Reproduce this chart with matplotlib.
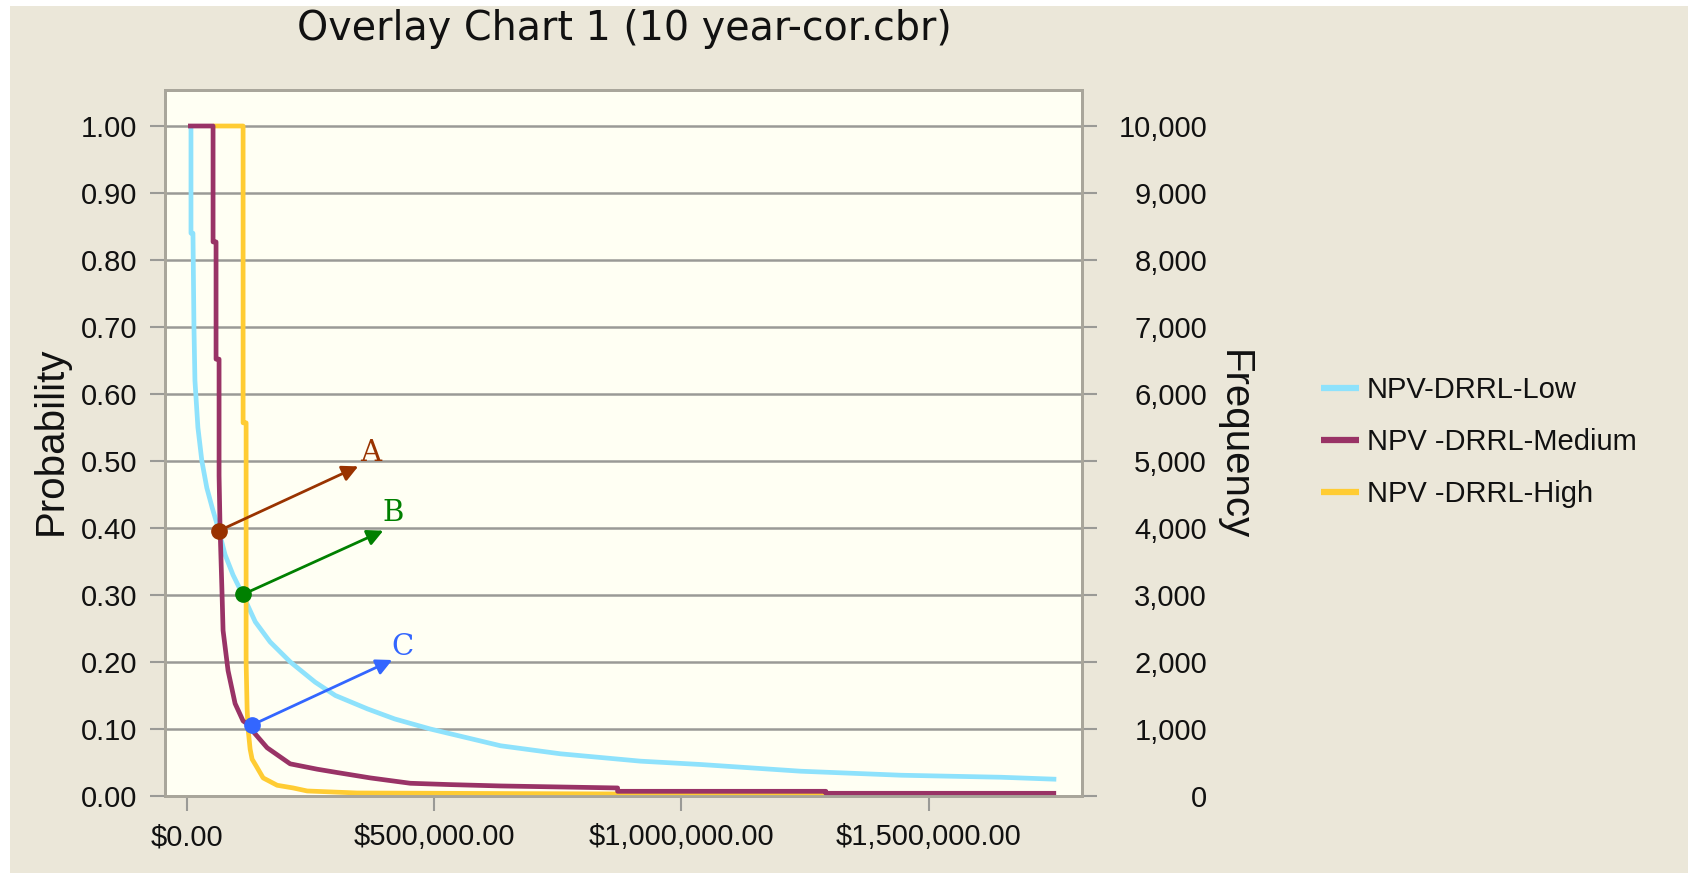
import matplotlib
matplotlib.use("Agg")
import matplotlib.pyplot as plt
from matplotlib.patches import Rectangle
from matplotlib.ticker import FixedLocator, FixedFormatter

plt.rcParams['font.family'] = ['Liberation Sans', 'DejaVu Sans']

# ---------------- data ----------------
title = "Overlay Chart 1 (10 year-cor.cbr)"
series_names = ["NPV-DRRL-Low", "NPV -DRRL-Medium", "NPV -DRRL-High"]

low_x = [8000, 8000, 12000, 14000, 16000, 22000, 30000, 40000, 51000, 63000,
         77000, 93000, 113000, 138000, 168000, 209000, 259000, 300000, 365000,
         420000, 492000, 634000, 755000, 917000, 1039000, 1241000, 1444000,
         1646000, 1758000]
low_p = [1.00, 0.84, 0.84, 0.70, 0.62, 0.55, 0.50, 0.46, 0.43, 0.40,
         0.36, 0.33, 0.30, 0.26, 0.23, 0.20, 0.17, 0.15, 0.13,
         0.115, 0.100, 0.075, 0.063, 0.052, 0.047, 0.037, 0.031,
         0.028, 0.025]

med_x = [2000, 52650, 52650, 58700, 58700, 64800, 64800, 66800, 70900, 72900,
         83000, 97200, 113400, 121500, 131600, 162000, 208600, 263300, 303800,
         370600, 451600, 532600, 633800, 870800, 870800, 1292000, 1292000, 1757700]
med_p = [1.00, 1.00, 0.827, 0.827, 0.652, 0.652, 0.478, 0.40, 0.30, 0.247,
         0.187, 0.138, 0.112, 0.108, 0.098, 0.072, 0.048, 0.040, 0.035,
         0.027, 0.019, 0.017, 0.015, 0.012, 0.007, 0.007, 0.004, 0.004]

high_x = [52650, 113400, 113400, 119500, 119500, 121500, 123500, 127600, 131600,
          139700, 153900, 182300, 214700, 243000, 344300, 700700, 1292000]
high_p = [1.00, 1.00, 0.557, 0.557, 0.20, 0.13, 0.10, 0.07, 0.055,
          0.045, 0.027, 0.016, 0.012, 0.0075, 0.0045, 0.0035, 0.002]

# annotations: label, dot (x, p), arrow tip (x, p), text (x, p)
ann_labels = ["A", "B", "C"]
ann_dot_x = [64800, 113400, 131600]
ann_dot_p = [0.396, 0.301, 0.106]
ann_tip_x = [346300, 396900, 415100]
ann_tip_p = [0.492, 0.396, 0.203]
ann_txt_x = [370600, 417200, 435400]
ann_txt_p = [0.512, 0.422, 0.223]

x_ticks = [0, 500000, 1000000, 1500000]
x_tick_labels = ["$0.00", "$500,000.00", "$1,000,000.00", "$1,500,000.00"]
prob_ticks = [0.0, 0.1, 0.2, 0.3, 0.4, 0.5, 0.6, 0.7, 0.8, 0.9, 1.0]
prob_tick_labels = ["0.00", "0.10", "0.20", "0.30", "0.40", "0.50", "0.60",
                    "0.70", "0.80", "0.90", "1.00"]
freq_ticks = [0, 1000, 2000, 3000, 4000, 5000, 6000, 7000, 8000, 9000, 10000]
freq_tick_labels = ["0", "1,000", "2,000", "3,000", "4,000", "5,000", "6,000",
                    "7,000", "8,000", "9,000", "10,000"]

# ---------------- style ----------------
W, H = 1688, 873
BG = '#EBE7D9'
PLOT_BG = '#FFFFF3'
GRID = '#9A9A96'
SPINE = '#A9A69B'
COLORS = ['#8EE2FC', '#993366', '#FFCC33']
ANN_COLORS = ['#993300', '#008000', '#3366FF']
TXT = '#111111'

fig = plt.figure(figsize=(W / 100, H / 100), dpi=100)
fig.patch.set_facecolor('white')
fig.patches.append(Rectangle((10 / W, 0), 1 - 10 / W, 1 - 6 / H,
                             transform=fig.transFigure, facecolor=BG,
                             edgecolor='none', zorder=-10))

L, R, T, B = 165, 1082, 90, 796
ax = fig.add_axes([L / W, 1 - B / H, (R - L) / W, (B - T) / H])
ax.set_facecolor(PLOT_BG)

xmin, xmax = -44550, 1810000
ytop = 1.0 + (126 - T) / (B - 126)
ax.set_xlim(xmin, xmax)
ax.set_ylim(0, ytop)

for sp in ax.spines.values():
    sp.set_color(SPINE)
    sp.set_linewidth(2.0)

ax.yaxis.set_major_locator(FixedLocator(prob_ticks))
ax.yaxis.set_major_formatter(FixedFormatter(prob_tick_labels))
ax.xaxis.set_major_locator(FixedLocator(x_ticks))
ax.xaxis.set_major_formatter(FixedFormatter(x_tick_labels))
ax.tick_params(axis='y', direction='out', length=11, width=1.5, color=GRID,
               pad=9, labelsize=21, labelcolor=TXT)
ax.tick_params(axis='x', direction='out', length=11, width=1.5, color=GRID,
               pad=8.5, labelsize=21, labelcolor=TXT)
ax.yaxis.grid(True, color=GRID, linewidth=1.8, zorder=0)
ax.set_axisbelow(True)

lw = 3.4
ax.plot(low_x, low_p, color=COLORS[0], lw=lw, label=series_names[0],
        solid_capstyle='butt', zorder=3)
ax.plot(high_x, high_p, color=COLORS[2], lw=lw, label=series_names[2],
        solid_capstyle='butt', zorder=3)
ax.plot(med_x, med_p, color=COLORS[1], lw=lw, label=series_names[1],
        solid_capstyle='butt', zorder=4)

for i, lab in enumerate(ann_labels):
    c = ANN_COLORS[i]
    ax.annotate('', xy=(ann_tip_x[i], ann_tip_p[i]),
                xytext=(ann_dot_x[i], ann_dot_p[i]),
                arrowprops=dict(arrowstyle='-|>', color=c, lw=2.0,
                                mutation_scale=24, shrinkA=0, shrinkB=0),
                zorder=6)
    ax.plot([ann_dot_x[i]], [ann_dot_p[i]], 'o', color=c, ms=11, zorder=7)
    ax.text(ann_txt_x[i], ann_txt_p[i], lab, color=c, fontsize=21,
            family=['DejaVu Serif'], ha='center', va='center', zorder=7)

# secondary frequency axis
ax2 = ax.twinx()
ax2.set_ylim(0, ytop * 10000)
ax2.yaxis.set_major_locator(FixedLocator(freq_ticks))
ax2.yaxis.set_major_formatter(FixedFormatter(freq_tick_labels))
ax2.tick_params(axis='y', direction='out', length=11, width=1.5, color=GRID,
                pad=79, labelsize=21, labelcolor=TXT)
for t in ax2.get_yticklabels():
    t.set_horizontalalignment('right')
for sp in ax2.spines.values():
    sp.set_color(SPINE)
    sp.set_linewidth(2.0)

# titles and axis labels
fig.text(624 / W, 1 - 40 / H, title, fontsize=28.5, family=['DejaVu Sans'],
         ha='center', va='baseline', color=TXT)
fig.text(51 / W, 1 - 441 / H, "Probability", fontsize=29, rotation=90,
         ha='center', va='center', color=TXT)
fig.text(1234 / W, 1 - 445 / H, "Frequency", fontsize=29, rotation=270,
         ha='center', va='center', color=TXT)

# legend
handles, labels = ax.get_legend_handles_labels()
order = [labels.index(n) for n in series_names]
leg = fig.legend([handles[k] for k in order], [labels[k] for k in order],
                 loc='center left', bbox_to_anchor=(1321 / W, 1 - 442 / H),
                 bbox_transform=fig.transFigure, frameon=False, borderpad=0,
                 borderaxespad=0, handlelength=1.3, handletextpad=0.27,
                 labelspacing=0.83, fontsize=21)
for ln in leg.get_lines():
    ln.set_linewidth(4.5)
for t in leg.get_texts():
    t.set_color(TXT)

fig.savefig('out.png', dpi=100, facecolor=fig.get_facecolor())
